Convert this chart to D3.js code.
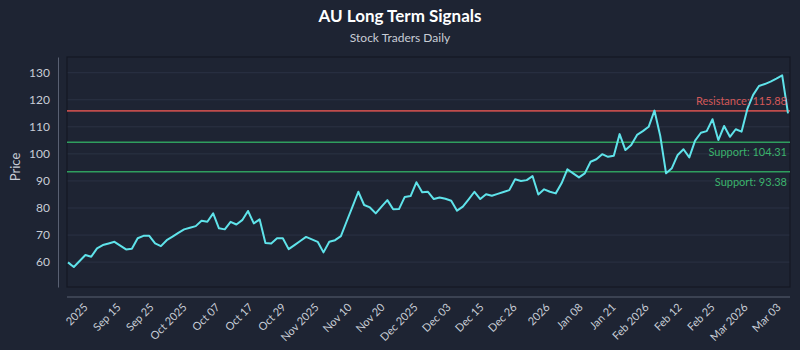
<!DOCTYPE html>
<html>
<head>
<meta charset="utf-8">
<script src="https://cdn.jsdelivr.net/npm/d3@7"></script>
<style>
  body { margin: 0; background: #1e2433; }
  svg { display: block; font-family: Lato, 'Open Sans', sans-serif; }
</style>
</head>
<body>
<svg id="chart" width="800" height="350"></svg>
<script>
const prices = [
  59.9, 58.2, 60.4, 62.6, 62.0, 65.1, 66.3, 66.9, 67.5, 66.1,
  64.7, 64.9, 68.8, 69.7, 69.7, 66.9, 65.9, 68.1, 69.4, 70.8,
  72.1, 72.7, 73.3, 75.3, 74.9, 78.0, 72.5, 72.1, 74.9, 73.9,
  75.5, 78.9, 74.3, 75.8, 67.1, 66.9, 68.8, 68.8, 64.8, 66.3,
  67.8, 69.3, 68.4, 67.5, 63.6, 67.5, 68.1, 69.6, 75.1, 80.5,
  86.0, 81.1, 80.2, 78.0, 80.5, 82.9, 79.5, 79.6, 84.1, 84.4,
  89.5, 85.8, 86.0, 83.3, 83.9, 83.4, 82.7, 79.0, 80.5, 83.2,
  86.0, 83.3, 85.1, 84.5, 85.2, 85.9, 86.6, 90.6, 90.0, 90.3,
  91.8, 85.0, 86.9, 86.0, 85.4, 89.1, 94.3, 92.8, 91.3, 92.8,
  97.1, 98.0, 99.9, 98.9, 99.3, 107.3, 101.4, 103.3, 107.0, 108.4,
  110.0, 116.0, 106.6, 92.8, 94.7, 99.6, 101.7, 98.7, 104.9, 107.8,
  108.4, 112.8, 105.1, 110.3, 106.3, 109.1, 108.2, 116.6, 121.8, 125.1,
  125.8, 126.7, 127.8, 129.0, 115.0,
];

const tickLabels = [
  '2025', 'Sep 15', 'Sep 25', 'Oct 2025', 'Oct 07', 'Oct 17', 'Oct 29',
  'Nov 2025', 'Nov 10', 'Nov 20', 'Dec 2025', 'Dec 03', 'Dec 15', 'Dec 26',
  '2026', 'Jan 08', 'Jan 21', 'Feb 2026', 'Feb 12', 'Feb 25', 'Mar 2026', 'Mar 03',
];

const yTicks = [60, 70, 80, 90, 100, 110, 120, 130];
const yDomain = [50.8, 135.8];

const resistanceLevels = [115.88];
const supportLevels = [104.31, 93.38];

const svg = d3.select('#chart');
const margin = { top: 57, right: 10, bottom: 63, left: 67 };
const width = +svg.attr('width') - margin.left - margin.right;
const height = +svg.attr('height') - margin.top - margin.bottom;

svg.append('rect')
  .attr('width', 800).attr('height', 350)
  .attr('fill', '#1e2433');

svg.append('text')
  .attr('x', 400).attr('y', 22)
  .attr('text-anchor', 'middle')
  .attr('fill', '#ffffff')
  .attr('font-size', 17)
  .attr('font-weight', 'bold')
  .text('AU Long Term Signals');

svg.append('text')
  .attr('x', 400).attr('y', 42)
  .attr('text-anchor', 'middle')
  .attr('fill', '#c8cdd6')
  .attr('font-size', 12)
  .text('Stock Traders Daily');

const g = svg.append('g').attr('transform', `translate(${margin.left},${margin.top})`);

const x = d3.scalePoint()
  .domain(d3.range(prices.length))
  .range([1, width - 2]);
const y = d3.scaleLinear()
  .domain(yDomain)
  .range([height, 0]);
const xTick = d3.scalePoint()
  .domain(tickLabels)
  .range([19, 712]);

// grid
g.selectAll('.grid')
  .data(yTicks)
  .enter().append('line')
  .attr('x1', 0).attr('x2', width)
  .attr('y1', d => y(d)).attr('y2', d => y(d))
  .attr('stroke', '#2b3244')
  .attr('stroke-width', 1);

// frame
g.append('rect')
  .attr('width', width).attr('height', height)
  .attr('fill', 'none')
  .attr('stroke', '#141823')
  .attr('stroke-width', 1.2);

// y axis (offset spine)
const gy = g.append('g').attr('transform', 'translate(-9,0)');
gy.call(d3.axisLeft(y).tickValues(yTicks).tickSize(0).tickPadding(8));
gy.select('.domain').attr('stroke', '#596072');
gy.selectAll('text').attr('fill', '#c8cdd6').attr('font-size', 12).attr('font-family', 'Lato, sans-serif');

// x axis (offset spine)
const gx = g.append('g').attr('transform', `translate(0,${height + 10})`);
gx.call(d3.axisBottom(xTick).tickSize(0).tickPadding(0));
gx.select('.domain').attr('d', `M0,0H${width}`).attr('stroke', '#596072');
gx.selectAll('text')
  .attr('fill', '#c8cdd6')
  .attr('font-size', 11)
  .attr('font-family', 'Lato, sans-serif')
  .attr('text-anchor', 'end')
  .attr('dy', '0')
  .attr('y', 0)
  .attr('transform', 'translate(2,11) rotate(-45)');

svg.append('text')
  .attr('transform', 'translate(20,167) rotate(-90)')
  .attr('text-anchor', 'middle')
  .attr('fill', '#c8cdd6')
  .attr('font-size', 13)
  .text('Price');

// levels
g.selectAll('.res')
  .data(resistanceLevels)
  .enter().append('line')
  .attr('x1', 0).attr('x2', width)
  .attr('y1', d => y(d)).attr('y2', d => y(d))
  .attr('stroke', '#c04c4c')
  .attr('stroke-width', 1.6);

g.selectAll('.sup')
  .data(supportLevels)
  .enter().append('line')
  .attr('x1', 0).attr('x2', width)
  .attr('y1', d => y(d)).attr('y2', d => y(d))
  .attr('stroke', '#2f9e5e')
  .attr('stroke-width', 1.6);

const line = d3.line()
  .x((d, i) => x(i))
  .y(d => y(d));

g.append('path')
  .datum(prices)
  .attr('fill', 'none')
  .attr('stroke', '#5fe3ea')
  .attr('stroke-width', 2)
  .attr('stroke-linejoin', 'round')
  .attr('d', line);

g.selectAll('.res-label')
  .data(resistanceLevels)
  .enter().append('text')
  .attr('x', width - 3)
  .attr('y', d => y(d) - 6)
  .attr('text-anchor', 'end')
  .attr('fill', '#d45858')
  .attr('font-size', 11)
  .text(d => `Resistance: ${d.toFixed(2)}`);

g.selectAll('.sup-label')
  .data(supportLevels)
  .enter().append('text')
  .attr('x', width - 3)
  .attr('y', d => y(d) + 14)
  .attr('text-anchor', 'end')
  .attr('fill', '#3bb36c')
  .attr('font-size', 11)
  .text(d => `Support: ${d.toFixed(2)}`);
</script>
</body>
</html>
